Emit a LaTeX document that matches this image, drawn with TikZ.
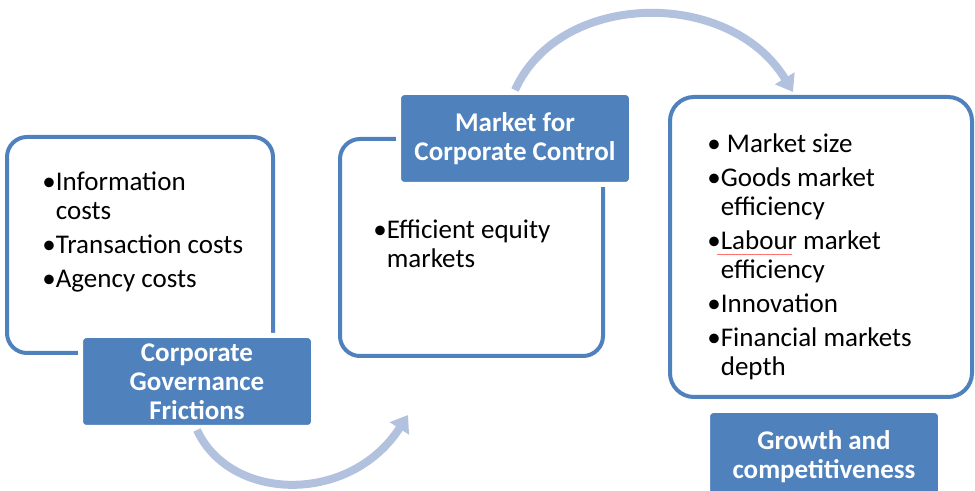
\documentclass[tikz,border=0pt]{standalone}
\usepackage{fontspec}
\setmainfont{Carlito}
\usetikzlibrary{arrows.meta}

\definecolor{boxblue}{RGB}{79,129,189}
\definecolor{arrowblue}{RGB}{178,194,222}

\tikzset{
  frame/.style={draw=boxblue,line width=2pt,rounded corners=10pt},
  title/.style={fill=boxblue,draw=white,line width=2.5pt,rounded corners=3pt,
    minimum width=116.5pt,minimum height=46pt,inner sep=0pt,align=center,
    text=white,font=\fontsize{13.5}{14.5}\selectfont\bfseries},
  items/.style={anchor=base west,inner sep=0pt,align=left,
    font=\fontsize{13.5}{14.5}\selectfont},
  flow/.style={draw=arrowblue,line width=4pt,-{Triangle[width=11pt,length=8pt]}}
}

\begin{document}
\begin{tikzpicture}[x=0.5pt,y=-0.5pt]
  \useasboundingbox (0,0) rectangle (975,491);

  % outlined boxes
  \node (frictions) [frame,minimum width=133pt,minimum height=108pt] at (140,245) {};
  \node (control) [frame,minimum width=131.5pt,minimum height=108.5pt] at (471.5,247.5) {};
  \node (growth) [frame,rounded corners=12pt,minimum width=151pt,minimum height=150pt] at (821,247) {};

  % bullet lists (placed by the baseline of their last line)
  \node (costs) [items] at (42,288) {%
    •Information\\
    \phantom{•}costs\\[2.5pt]
    •Transaction costs\\[2.5pt]
    •Agency costs};
  \node (equity) [items] at (373,268) {%
    •Efficient equity\\
    \phantom{•}markets};
  \node (factors) [items] at (707,376) {%
    • Market size\\[2.5pt]
    •Goods market\\
    \phantom{•}efficiency\\[2.5pt]
    •Labour market\\
    \phantom{•}efficiency\\[2.5pt]
    •Innovation\\[2.5pt]
    •Financial markets\\
    \phantom{•}depth};
  \draw[red!55,line width=0.4pt] (717,254) -- (792,254);

  % titles
  \node (cgf) [title] at (197,381.5) {Corporate\\Governance\\Frictions};
  \node (mcc) [title] at (515,138.5) {Market for\\Corporate Control};
  \node (gc) [title] at (824,456.5) {Growth and\\competitiveness};

  % curved arrows between the stages
  \coordinate (tipA) at (408,415);
  \coordinate (tipB) at (793,92);
  \draw[flow] (cgf.south) .. controls +(33,72) and +(-58,90) .. (tipA);
  \draw[flow] (mcc.north) .. controls +(45,-100) and +(-63,-104) .. (tipB);
\end{tikzpicture}
\end{document}
